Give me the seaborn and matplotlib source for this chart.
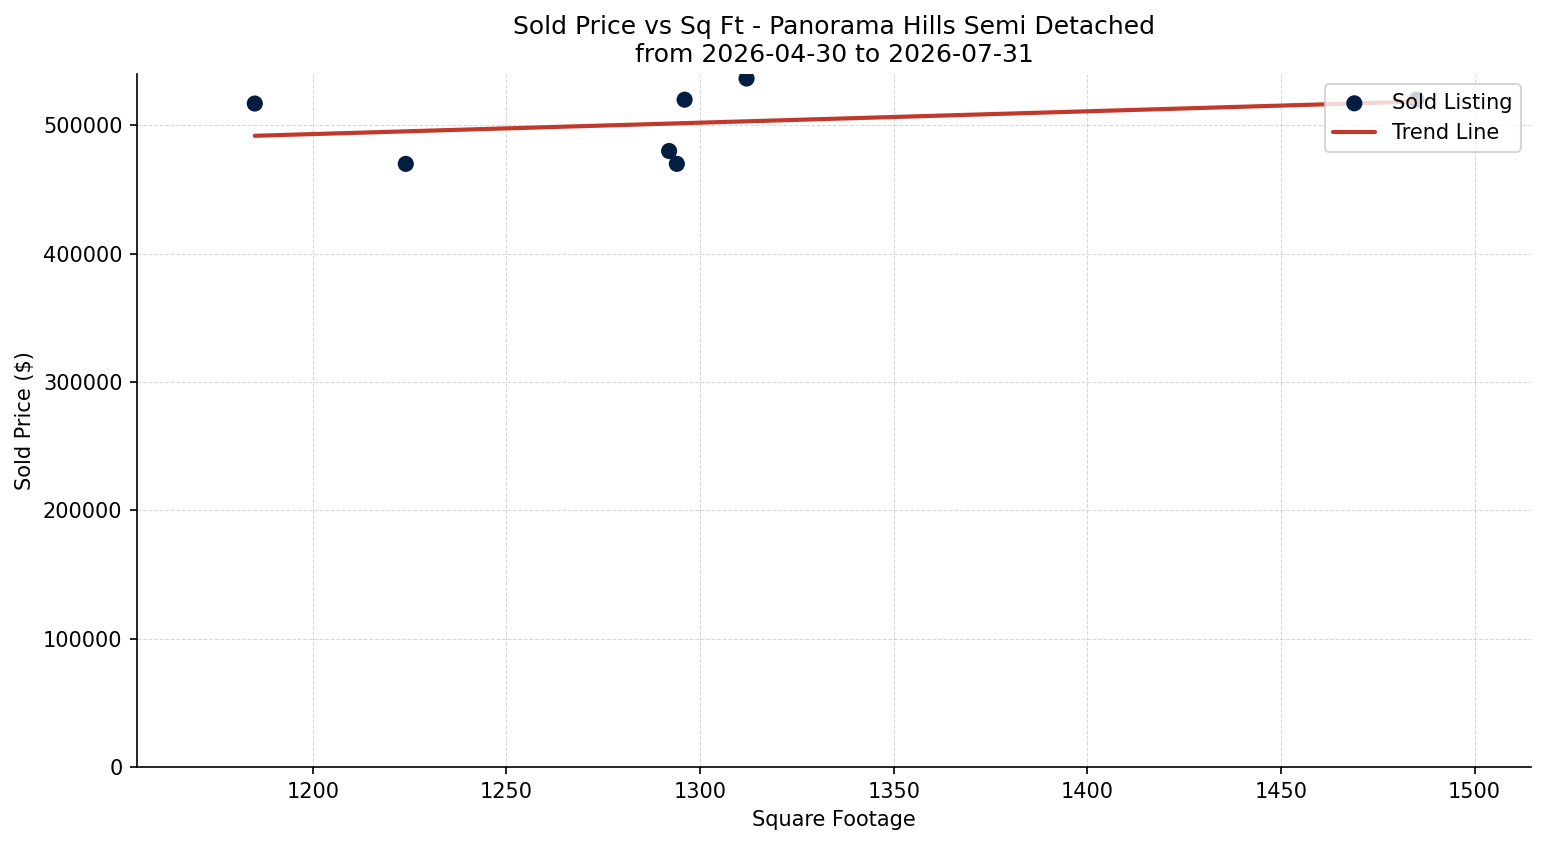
import numpy as np
import pandas as pd
import matplotlib
matplotlib.use('Agg')
import matplotlib.pyplot as plt
import seaborn as sns

# sold listings
sqft = [1185, 1224, 1292, 1294, 1296, 1312, 1485]
sold_price = [517000, 470000, 480000, 470000, 520000, 536500, 520000]

community = 'Panorama Hills'
prop_type = 'Semi Detached'
start_date = '2026-04-30'
end_date = '2026-07-31'

df = pd.DataFrame({'sqft': sqft, 'sold_price': sold_price})

sns.set_style('ticks', {'axes.edgecolor': 'black', 'text.color': 'black',
                        'axes.labelcolor': 'black', 'xtick.color': 'black',
                        'ytick.color': 'black'})
plt.rcParams['font.family'] = ['DejaVu Sans']

fig, ax = plt.subplots(figsize=(1547 / 150, 845 / 150), dpi=150)
fig.subplots_adjust(left=0.0886, right=0.9897, top=0.9124, bottom=0.0923)

sns.scatterplot(data=df, x='sqft', y='sold_price', s=60, color='#041e42',
                edgecolor='none', label='Sold Listing', ax=ax, zorder=3)

# trend line from a linear fit
m, b = np.polyfit(df['sqft'], df['sold_price'], 1)
xs = np.array([df['sqft'].min(), df['sqft'].max()])
ax.plot(xs, m * xs + b, color='#c0392b', linewidth=2, label='Trend Line', zorder=4)

ax.set_xlim(df['sqft'].min() - 30.4, df['sqft'].max() + 29.6)
ax.set_ylim(0, 540000)
ax.grid(True, linestyle='--', linewidth=0.5, color='#b0b0b0', alpha=0.5)
sns.despine(ax=ax)

ax.set_title(f'Sold Price vs Sq Ft - {community} {prop_type}\nfrom {start_date} to {end_date}',
             fontsize=12)
ax.set_xlabel('Square Footage')
ax.set_ylabel('Sold Price ($)')
ax.legend(loc='upper right')

fig.savefig('out.png', dpi=150)
